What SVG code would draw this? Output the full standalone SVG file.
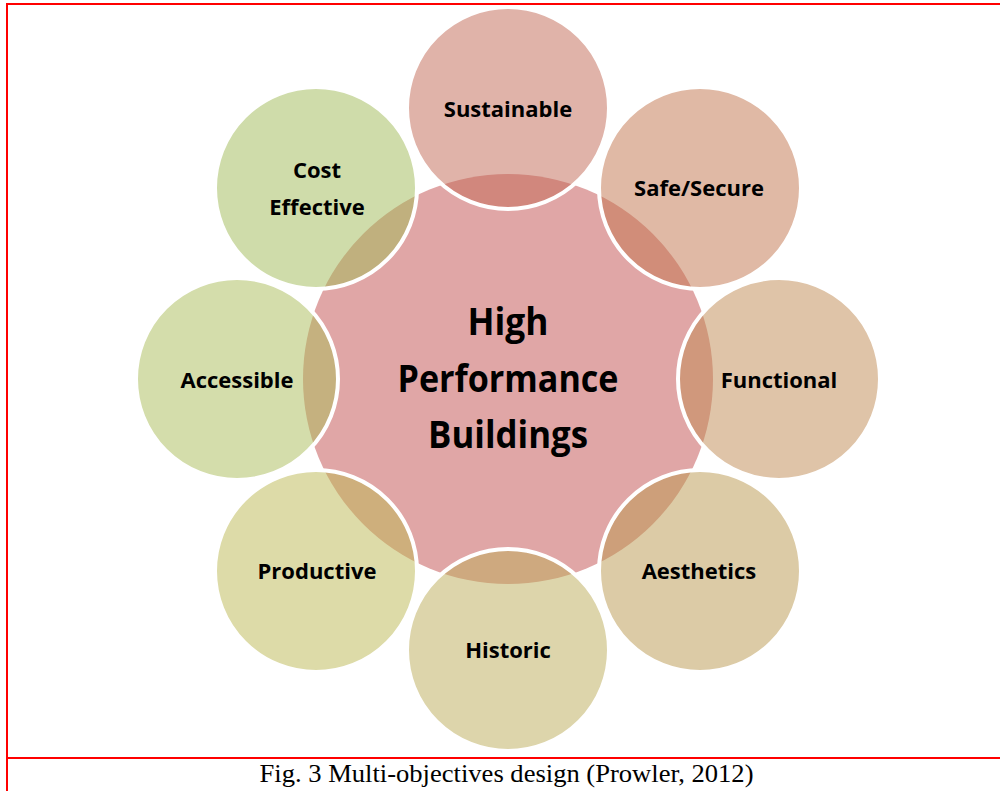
<svg xmlns="http://www.w3.org/2000/svg" width="1000" height="791" viewBox="0 0 1000 791">
<style>
.lbl{font-family:"Open Sans","Noto Sans","DejaVu Sans",sans-serif;font-weight:bold;font-size:22px;fill:#000;text-anchor:middle}
.ctr{font-family:"Open Sans","Noto Sans","DejaVu Sans",sans-serif;font-weight:bold;font-size:37px;fill:#000;text-anchor:middle}
.cap{font-family:"Liberation Serif","Times New Roman",serif;font-size:25.5px;fill:#000;text-anchor:middle}
.outer{stroke:#fff;stroke-width:4;fill-opacity:0.5}
.frame{stroke:#ff0000;stroke-width:2;fill:none}
</style>
<rect x="0" y="0" width="1000" height="791" fill="#fff"/>
<g id="frame">
<line class="frame" x1="7" y1="4" x2="1000" y2="4"/>
<line class="frame" x1="7" y1="3" x2="7" y2="791"/>
<line class="frame" x1="7" y1="758" x2="1000" y2="758"/>
</g>
<g id="center">
<circle cx="508" cy="379" r="205" fill="#e0a6a6"/>
</g>
<g id="n-sustainable"><circle class="outer" cx="508" cy="108" r="101" fill="#c16753"/></g>
<g id="n-safe"><circle class="outer" cx="700" cy="188" r="101" fill="#c1734b"/></g>
<g id="n-functional"><circle class="outer" cx="779" cy="379" r="101" fill="#bf8951"/></g>
<g id="n-aesthetics"><circle class="outer" cx="700" cy="571" r="101" fill="#b9974d"/></g>
<g id="n-historic"><circle class="outer" cx="508" cy="650" r="101" fill="#bbab57"/></g>
<g id="n-productive"><circle class="outer" cx="316" cy="571" r="101" fill="#bbb751"/></g>
<g id="n-accessible"><circle class="outer" cx="237" cy="379" r="101" fill="#a9bb57"/></g>
<g id="n-cost"><circle class="outer" cx="316" cy="188" r="101" fill="#9fb955"/></g>
<g id="labels">
<text class="lbl" x="508" y="117">Sustainable</text>
<text class="lbl" x="699" y="196">Safe/Secure</text>
<text class="lbl" x="779" y="388">Functional</text>
<text class="lbl" x="699" y="579">Aesthetics</text>
<text class="lbl" x="508" y="658">Historic</text>
<text class="lbl" x="317" y="579">Productive</text>
<text class="lbl" x="237" y="388">Accessible</text>
<text class="lbl" x="317" y="178">Cost</text>
<text class="lbl" x="317" y="215">Effective</text>
<text class="ctr" x="508" y="335" textLength="81" lengthAdjust="spacingAndGlyphs">High</text>
<text class="ctr" x="508" y="392" textLength="221" lengthAdjust="spacingAndGlyphs">Performance</text>
<text class="ctr" x="508" y="448" textLength="160" lengthAdjust="spacingAndGlyphs">Buildings</text>
</g>
<text class="cap" x="506.5" y="782" textLength="494" lengthAdjust="spacingAndGlyphs">Fig. 3 Multi-objectives design (Prowler, 2012)</text>
</svg>
